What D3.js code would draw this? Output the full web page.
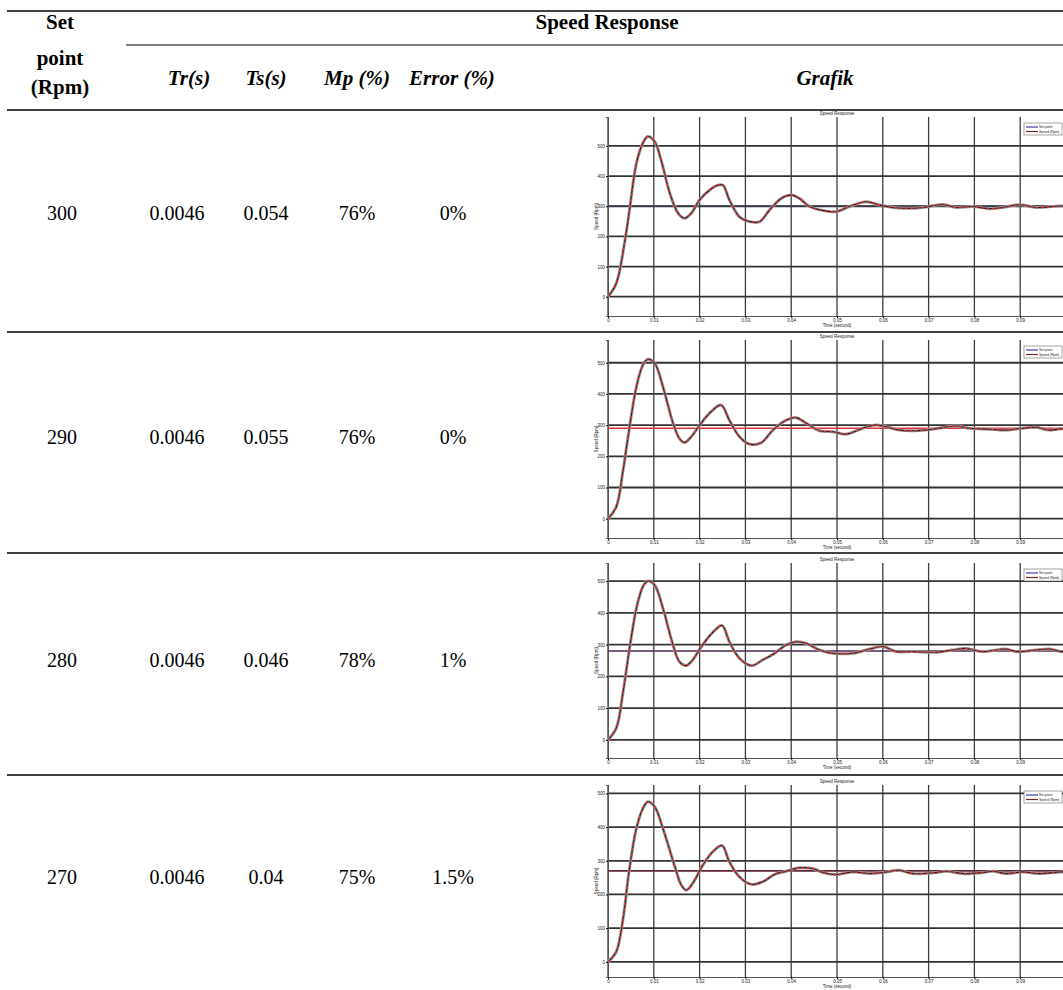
<!DOCTYPE html>
<html>
<head>
<meta charset="utf-8">
<script src="https://cdn.jsdelivr.net/npm/d3@7"></script>
<style>
  body { margin: 0; background: #fff; }
  svg { display: block; }
  .tbl text { font-family: "Liberation Serif", "Times New Roman", serif; fill: #000; }
  .plot text { font-family: "Liberation Sans", Arial, sans-serif; fill: #222; }
</style>
</head>
<body>
<svg id="chart" width="1063" height="990"></svg>
<script>
// table values
const setPoints = [300, 290, 280, 270];
const riseTimes = ['0.0046', '0.0046', '0.0046', '0.0046'];
const settleTimes = ['0.054', '0.055', '0.046', '0.04'];
const overshoots = ['76%', '76%', '78%', '75%'];
const errors = ['0%', '0%', '1%', '1.5%'];

// chart axes
const timeTicks = [0, 0.01, 0.02, 0.03, 0.04, 0.05, 0.06, 0.07, 0.08, 0.09, 0.1];
const speedTicks = [0, 100, 200, 300, 400, 500];
const yDomains = [[-64, 596], [-62, 573], [-57, 557], [-45, 525]];

// speed response [time (s), rpm]
const speed300 = [[0,0],[0.0018,44],[0.0036,177],[0.0047,288],[0.0062,442],[0.0076,509],[0.0087,531],[0.0102,514],[0.0116,453],[0.0135,343],[0.0153,277],[0.0167,260],[0.0182,277],[0.02,321],[0.0222,354],[0.024,370],[0.0251,370],[0.0265,321],[0.0287,265],[0.0309,249],[0.0331,249],[0.0353,288],[0.0378,326],[0.04,337],[0.0418,326],[0.044,299],[0.0462,288],[0.0498,282],[0.0527,299],[0.0564,315],[0.0593,304],[0.0622,296],[0.0658,293],[0.0687,296],[0.0731,306],[0.076,296],[0.0796,299],[0.0833,292],[0.0862,296],[0.0898,305],[0.0935,296],[0.0985,301],[0.1,300]];
const speed290 = [[0,0],[0.0018,38],[0.0033,156],[0.0046,284],[0.0062,423],[0.0076,492],[0.0087,511],[0.0102,498],[0.012,423],[0.0142,306],[0.0156,257],[0.0167,244],[0.0182,263],[0.02,300],[0.0225,343],[0.0247,364],[0.0265,316],[0.0287,263],[0.0309,239],[0.0335,244],[0.036,284],[0.0389,316],[0.0411,324],[0.0433,306],[0.0462,282],[0.0491,279],[0.052,271],[0.0556,290],[0.0582,300],[0.0607,295],[0.0636,284],[0.0673,282],[0.0709,287],[0.076,297],[0.0789,290],[0.0833,287],[0.0869,284],[0.0905,290],[0.0935,293],[0.0964,284],[0.0989,288],[0.1,289]];
const speed280 = [[0,0],[0.0018,37],[0.0033,152],[0.0046,278],[0.0062,414],[0.0076,482],[0.0087,500],[0.0102,487],[0.012,414],[0.0142,299],[0.0156,246],[0.0171,234],[0.0185,252],[0.0204,294],[0.0229,339],[0.0249,360],[0.0265,309],[0.0287,257],[0.0313,234],[0.0338,252],[0.0364,273],[0.0389,299],[0.0411,309],[0.0433,304],[0.0462,283],[0.0491,273],[0.0535,273],[0.0571,286],[0.06,294],[0.0629,278],[0.0665,278],[0.0716,276],[0.0753,283],[0.0782,288],[0.0818,278],[0.0869,286],[0.0891,278],[0.0935,283],[0.0964,286],[0.0989,278],[0.1,279]];
const speed270 = [[0,0],[0.0018,30],[0.0033,129],[0.0046,269],[0.0062,396],[0.0076,455],[0.0087,475],[0.0102,460],[0.012,396],[0.0145,287],[0.016,228],[0.0171,213],[0.0185,233],[0.0207,287],[0.0229,327],[0.0249,345],[0.0265,297],[0.0287,252],[0.0313,230],[0.0338,238],[0.0364,260],[0.0389,269],[0.0418,279],[0.0447,277],[0.0469,265],[0.0498,259],[0.0535,267],[0.0571,262],[0.06,265],[0.0636,272],[0.0665,262],[0.0716,265],[0.0738,269],[0.0775,262],[0.0818,265],[0.084,269],[0.0869,262],[0.0905,267],[0.0942,262],[0.0989,267],[0.1,266]];
const speedSeries = [speed300, speed290, speed280, speed270];
const setPointColors = ['#3a3a4a', '#e2323a', '#4a2452', '#5e2634'];

const svg = d3.select('#chart');

// ---- table ----
const tbl = svg.append('g').attr('class', 'tbl');
const hline = (y, x1, w) => tbl.append('line')
  .attr('x1', x1).attr('x2', 1063).attr('y1', y).attr('y2', y)
  .attr('stroke', '#000').attr('stroke-width', w);
hline(11, 7, 1.5);
hline(45, 126, 1.2);
hline(110, 7, 1.5);
[332, 553, 775].forEach(y => hline(y, 7, 1.4));

const head = (txt, x, y, italic) => tbl.append('text')
  .attr('x', x).attr('y', y).attr('text-anchor', 'middle')
  .attr('font-size', 21).attr('font-weight', 'bold')
  .attr('font-style', italic ? 'italic' : 'normal').text(txt);
head('Set', 60, 29);
head('point', 60, 65);
head('(Rpm)', 60, 94);
head('Speed Response', 607, 29);
head('Tr(s)', 189, 85, true);
head('Ts(s)', 266, 85, true);
head('Mp (%)', 357, 85, true);
head('Error (%)', 452, 85, true);
head('Grafik', 825, 85, true);

const rowBase = [220, 444, 667, 884];
const cols = [
  { x: 62, vals: setPoints },
  { x: 177, vals: riseTimes },
  { x: 266, vals: settleTimes },
  { x: 357, vals: overshoots },
  { x: 453, vals: errors }
];
cols.forEach(c => {
  tbl.selectAll(null).data(c.vals).enter().append('text')
    .attr('x', c.x).attr('y', (d, i) => rowBase[i])
    .attr('text-anchor', 'middle').attr('font-size', 20)
    .text(d => d);
});

// ---- small graphs ----
const plotTops = [117, 340, 563, 785];
const plotBottoms = [316, 538, 758, 977];
const x = d3.scaleLinear().domain([0, 0.1]).range([608, 1066]);

speedSeries.forEach((data, i) => {
  const g = svg.append('g').attr('class', 'plot');
  const y = d3.scaleLinear().domain(yDomains[i]).range([plotBottoms[i], plotTops[i]]);

  // grid
  g.selectAll('.vg').data(timeTicks).enter().append('line')
    .attr('x1', d => x(d)).attr('x2', d => x(d))
    .attr('y1', plotTops[i]).attr('y2', plotBottoms[i])
    .attr('stroke', '#3c3c3c').attr('stroke-width', 1.3);
  g.selectAll('.hg').data(speedTicks).enter().append('line')
    .attr('x1', x(0)).attr('x2', 1066)
    .attr('y1', d => y(d)).attr('y2', d => y(d))
    .attr('stroke', '#333').attr('stroke-width', 1.8);

  // axes
  g.append('g').attr('transform', `translate(0,${plotBottoms[i]})`)
    .call(d3.axisBottom(x).tickValues(timeTicks.slice(0, 10))
      .tickFormat(d => d === 0 ? '0' : d3.format('.2f')(d)).tickSize(2).tickPadding(1))
    .call(a => a.select('.domain').attr('stroke', '#555'))
    .call(a => a.selectAll('text').attr('font-size', 4.5).attr('fill', '#333'));
  g.append('g').attr('transform', `translate(${x(0)},0)`)
    .call(d3.axisLeft(y).tickValues(speedTicks).tickSize(2).tickPadding(1))
    .call(a => a.select('.domain').attr('stroke', '#555'))
    .call(a => a.selectAll('text').attr('font-size', 4.5).attr('fill', '#333'));

  g.append('text').attr('x', 837).attr('y', plotTops[i] - 2)
    .attr('text-anchor', 'middle').attr('font-size', 4.5).text('Speed Response');
  g.append('text').attr('x', 837).attr('y', plotBottoms[i] + 11)
    .attr('text-anchor', 'middle').attr('font-size', 4.5).text('Time (second)');
  g.append('text')
    .attr('transform', `translate(598,${(plotTops[i] + plotBottoms[i]) / 2}) rotate(-90)`)
    .attr('text-anchor', 'middle').attr('font-size', 4.5).text('Speed (Rpm)');

  // set point
  g.append('line')
    .attr('x1', x(0)).attr('x2', 1066)
    .attr('y1', y(setPoints[i])).attr('y2', y(setPoints[i]))
    .attr('stroke', setPointColors[i]).attr('stroke-width', 1.6);

  // response
  const line = d3.line().x(d => x(d[0])).y(d => y(d[1])).curve(d3.curveCatmullRom);
  g.append('path').datum(data).attr('d', line)
    .attr('fill', 'none').attr('stroke', '#9a9a9a').attr('stroke-width', 3);
  g.append('path').datum(data).attr('d', line)
    .attr('fill', 'none').attr('stroke', '#222').attr('stroke-width', 1.1);
  g.append('path').datum(data).attr('d', line)
    .attr('fill', 'none').attr('stroke', '#ee2a2a').attr('stroke-width', 1.5)
    .attr('stroke-dasharray', '2.5,3');

  // legend
  const lg = g.append('g').attr('transform', `translate(1024,${plotTops[i] + 6})`);
  lg.append('rect').attr('width', 38).attr('height', 12)
    .attr('fill', '#fff').attr('stroke', '#666').attr('stroke-width', 0.6);
  lg.append('line').attr('x1', 2).attr('x2', 14).attr('y1', 4).attr('y2', 4)
    .attr('stroke', '#3b3bb0').attr('stroke-width', 1.2);
  lg.append('line').attr('x1', 2).attr('x2', 14).attr('y1', 8.5).attr('y2', 8.5)
    .attr('stroke', '#6a2a30').attr('stroke-width', 1.2);
  lg.append('text').attr('x', 15).attr('y', 5.3).attr('font-size', 3.4).text('Set point');
  lg.append('text').attr('x', 15).attr('y', 9.8).attr('font-size', 3.4).text('Speed (Rpm)');
});
</script>
</body>
</html>
